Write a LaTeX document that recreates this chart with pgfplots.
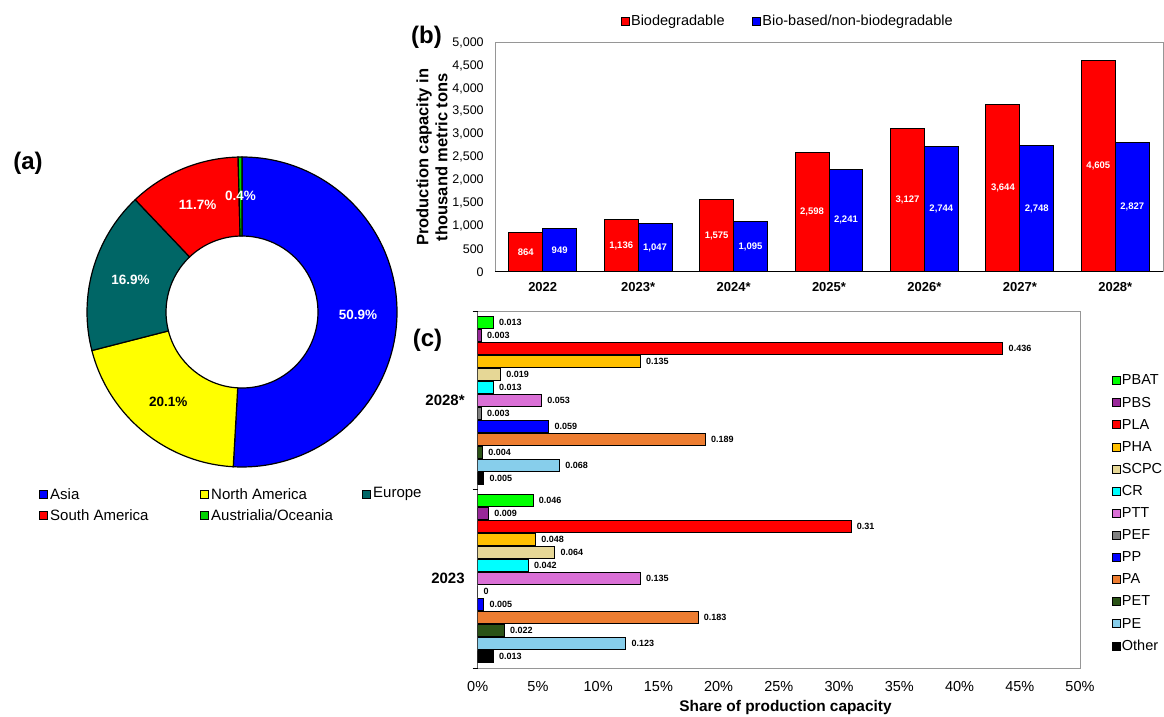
\documentclass[border=0pt]{standalone}
\usepackage{fontspec}
\setmainfont{Liberation Sans}
\usepackage{pgfplots}
\pgfplotsset{compat=1.18}
\usetikzlibrary{calc}
\definecolor{asiablue}{RGB}{0,0,255}
\definecolor{nayellow}{RGB}{255,255,0}
\definecolor{euteal}{RGB}{0,102,102}
\definecolor{sared}{RGB}{255,0,0}
\definecolor{ocgreen}{RGB}{0,210,0}
\definecolor{cPBAT}{RGB}{0,255,0}
\definecolor{cPBS}{RGB}{153,40,153}
\definecolor{cPLA}{RGB}{255,0,0}
\definecolor{cPHA}{RGB}{255,192,0}
\definecolor{cSCPC}{RGB}{230,215,150}
\definecolor{cCR}{RGB}{0,255,255}
\definecolor{cPTT}{RGB}{218,112,214}
\definecolor{cPEF}{RGB}{128,128,128}
\definecolor{cPP}{RGB}{0,0,255}
\definecolor{cPA}{RGB}{237,125,49}
\definecolor{cPET}{RGB}{42,82,22}
\definecolor{cPE}{RGB}{135,206,235}
\definecolor{cOther}{RGB}{0,0,0}
\definecolor{framegray}{RGB}{150,150,150}
\pgfplotsset{
  sqlegend/.style={legend image code/.code={\draw[##1, draw=black, line width=0.8pt] (0pt,-4pt) rectangle (8pt,4pt);}},
  bbar/.style={ybar, bar width=0.355, bar shift=0pt, draw=black, line width=1pt, sqlegend,
    nodes near coords, visualization depends on={rawy \as \rawy},
    nodes near coords style={font=\fontsize{9.5}{11}\selectfont\bfseries, text=white, anchor=center,
      shift={(axis direction cs:0,-\rawy/2)}}},
  cbar/.style={xbar, bar width=0.067, bar shift=0pt, draw=black, line width=1pt, sqlegend,
    nodes near coords, point meta=explicit symbolic,
    nodes near coords style={font=\fontsize{9}{10}\selectfont\bfseries, text=black, anchor=west, xshift=2pt}},
}
\begin{document}
\begin{tikzpicture}[x=1pt,y=1pt]
\useasboundingbox (0,0) rectangle (1164,716);

% ---------------- (a) donut ----------------
\begin{axis}[at={(242pt,404pt)}, anchor=center, width=310pt, height=310pt, scale only axis,
  hide axis, xmin=-1, xmax=1, ymin=-1, ymax=1, clip=false]
\pgfplotsextra{
  \xdef\acc{90}
  \foreach \v/\c/\tc/\lab in {50.9/asiablue/white/50.9\%, 20.1/nayellow/black/20.1\%,
      16.9/euteal/white/16.9\%, 11.7/sared/white/11.7\%, 0.4/ocgreen/white/0.4\%}{
    \pgfmathsetmacro\a{\acc}
    \pgfmathsetmacro\b{\acc-3.6*\v}
    \pgfmathsetmacro\m{(\a+\b)/2}
    \draw[fill=\c, line width=1.2pt] ($(axis cs:0,0)+(\a:155pt)$) arc[start angle=\a, end angle=\b, radius=155pt]
       -- ($(axis cs:0,0)+(\b:76pt)$) arc[start angle=\b, end angle=\a, radius=76pt] -- cycle;
    \node[text=\tc, font=\fontsize{13.5}{16}\selectfont\bfseries] at ($(axis cs:0,0)+(\m:116pt)$) {\lab};
    \xdef\acc{\b}
  }
}
\end{axis}
% legend (a)
\draw[fill=asiablue, line width=0.8pt] (39,217.5) rectangle ++(8,8);
\node[anchor=west, font=\fontsize{15}{18}\selectfont, inner sep=0pt] at (50,222) {Asia};
\draw[fill=nayellow, line width=0.8pt] (200,217.5) rectangle ++(8,8);
\node[anchor=west, font=\fontsize{15}{18}\selectfont, inner sep=0pt] at (211,222) {North America};
\draw[fill=euteal, line width=0.8pt] (362,217.5) rectangle ++(8,8);
\node[anchor=west, font=\fontsize{15}{18}\selectfont, inner sep=0pt] at (373,222) {Europe};
\draw[fill=sared, line width=0.8pt] (39,196.5) rectangle ++(8,8);
\node[anchor=west, font=\fontsize{15}{18}\selectfont, inner sep=0pt] at (50,201) {South America};
\draw[fill=ocgreen, line width=0.8pt] (200,196.5) rectangle ++(8,8);
\node[anchor=west, font=\fontsize{15}{18}\selectfont, inner sep=0pt] at (211,201) {Austrialia/Oceania};

% ---------------- (b) bars ----------------
\begin{axis}[at={(495pt,444.3pt)}, anchor=south west, width=668pt, height=229pt, scale only axis,
  xmin=-0.5, xmax=6.5, ymin=0, ymax=5000,
  xtick={0,1,2,3,4,5,6}, xticklabels={2022,2023*,2024*,2025*,2026*,2027*,2028*},
  ytick={0,500,1000,1500,2000,2500,3000,3500,4000,4500,5000},
  /pgf/number format/1000 sep={,}, /pgf/number format/assume math mode=true,
  scaled y ticks=false, major tick length=0pt,
  axis line style={draw=framegray, line width=0.8pt},
  xticklabel style={font=\fontsize{13}{15}\selectfont\bfseries, yshift=-7.5pt},
  yticklabel style={font=\fontsize{12.5}{15}\selectfont, xshift=-7.8pt},
  ylabel={Production capacity in\\thousand metric tons},
  ylabel style={font=\fontsize{16.5}{19}\selectfont\bfseries, align=center,
    at={(axis description cs:-0.0943,0.5)}, anchor=center},
  legend columns=2,
  legend style={at={(axis description cs:0.188,1.095)}, anchor=west, draw=none, fill=none,
    inner sep=0pt, font=\fontsize{14.5}{17}\selectfont,
    nodes={inner sep=1.5pt}, cells={anchor=west},
    /tikz/every even column/.append style={column sep=26pt}},
]
\addplot[bbar, fill=sared] coordinates {(-0.1775,864) (0.8225,1136) (1.8225,1575) (2.8225,2598) (3.8225,3127) (4.8225,3644) (5.8225,4605)};
\addplot[bbar, fill=asiablue] coordinates {(0.1775,949) (1.1775,1047) (2.1775,1095) (3.1775,2241) (4.1775,2744) (5.1775,2748) (6.1775,2827)};
\legend{Biodegradable, Bio-based/non-biodegradable}
\draw[black, line width=1.2pt] (rel axis cs:0,0) -- (rel axis cs:1,0);
\end{axis}

% ---------------- (c) horizontal bars ----------------
\begin{axis}[at={(477.7pt,48pt)}, anchor=south west, width=602.3pt, height=357pt, scale only axis,
  xmin=0, xmax=0.5, ymin=-0.5, ymax=1.5,
  xtick={0,0.05,0.1,0.15,0.2,0.25,0.3,0.35,0.4,0.45,0.5},
  xticklabels={0\%,5\%,10\%,15\%,20\%,25\%,30\%,35\%,40\%,45\%,50\%},
  ytick={0,1}, yticklabels={2023,2028*},
  extra y ticks={-0.5,0.5,1.5}, extra y tick labels={},
  extra y tick style={tick align=outside, major tick length=5pt, tick style={draw=black, line width=1pt}},
  ytick pos=left, xtick pos=bottom,
  major tick length=0pt,
  axis line style={draw=framegray, line width=0.8pt},
  xticklabel style={font=\fontsize{14.5}{17}\selectfont, yshift=-9.5pt},
  yticklabel style={font=\fontsize{15}{18}\selectfont\bfseries, xshift=-9.5pt},
  xlabel={Share of production capacity},
  xlabel style={font=\fontsize{15.4}{18}\selectfont\bfseries, at={(axis description cs:0.511,-0.111)}, anchor=center},
  legend style={at={(axis description cs:1.053,0.4328)}, anchor=west, draw=none, fill=none,
    inner sep=0pt, row sep=8.6pt, font=\fontsize{14.5}{17}\selectfont, nodes={inner sep=1pt},
    cells={anchor=west}},
]
\addplot[cbar, fill=cPBAT] coordinates {(0.013,1.4368) [0.013] (0.046,0.4368) [0.046]};
\addplot[cbar, fill=cPBS] coordinates {(0.003,1.364) [0.003] (0.009,0.364) [0.009]};
\addplot[cbar, fill=cPLA] coordinates {(0.436,1.2912) [0.436] (0.31,0.2912) [0.31]};
\addplot[cbar, fill=cPHA] coordinates {(0.135,1.2184) [0.135] (0.048,0.2184) [0.048]};
\addplot[cbar, fill=cSCPC] coordinates {(0.019,1.1456) [0.019] (0.064,0.1456) [0.064]};
\addplot[cbar, fill=cCR] coordinates {(0.013,1.0728) [0.013] (0.042,0.0728) [0.042]};
\addplot[cbar, fill=cPTT] coordinates {(0.053,1) [0.053] (0.135,0) [0.135]};
\addplot[cbar, fill=cPEF] coordinates {(0.003,0.9272) [0.003] (0,-0.0728) [0]};
\addplot[cbar, fill=cPP] coordinates {(0.059,0.8544) [0.059] (0.005,-0.1456) [0.005]};
\addplot[cbar, fill=cPA] coordinates {(0.189,0.7816) [0.189] (0.183,-0.2184) [0.183]};
\addplot[cbar, fill=cPET] coordinates {(0.004,0.7088) [0.004] (0.022,-0.2912) [0.022]};
\addplot[cbar, fill=cPE] coordinates {(0.068,0.636) [0.068] (0.123,-0.364) [0.123]};
\addplot[cbar, fill=cOther] coordinates {(0.005,0.5632) [0.005] (0.013,-0.4368) [0.013]};
\legend{PBAT,PBS,PLA,PHA,SCPC,CR,PTT,PEF,PP,PA,PET,PE,Other}
\draw[black, line width=1.2pt] (rel axis cs:0,0) -- (rel axis cs:0,1);
\end{axis}

% panel letters
\node[font=\fontsize{24}{28}\selectfont\bfseries] at (28,553) {(a)};
\node[font=\fontsize{24}{28}\selectfont\bfseries] at (426.5,679) {(b)};
\node[font=\fontsize{24}{28}\selectfont\bfseries] at (427.5,376) {(c)};
\end{tikzpicture}
\end{document}
